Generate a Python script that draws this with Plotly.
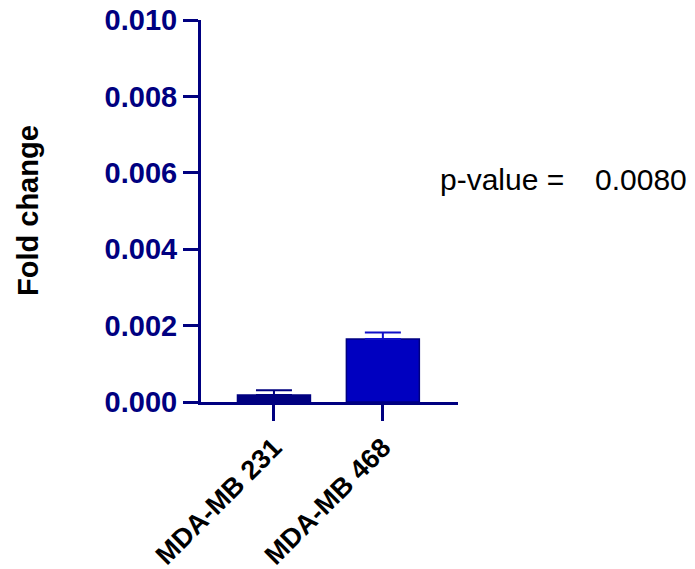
import plotly.graph_objects as go

categories = ["MDA-MB 231", "MDA-MB 468"]
values = [0.00018, 0.00165]
errors = [0.00013, 0.00017]
bar_colors = ["#000080", "#0000C0"]
err_colors = ["#000080", "#1010C8"]
y_ticks = [0.000, 0.002, 0.004, 0.006, 0.008, 0.010]
y_tick_labels = ["0.000", "0.002", "0.004", "0.006", "0.008", "0.010"]
y_title = "Fold change"
p_label = "p-value ="
p_value = "0.0080"

navy = "#000080"
FONT = "Arial, Liberation Sans, sans-serif"

L, R, T, B = 201, 458, 20, 402
W, H = 695, 569

fig = go.Figure()
for i in range(len(categories)):
    fig.add_trace(go.Bar(
        x=[i], y=[values[i]], width=0.67,
        marker=dict(color=bar_colors[i], line=dict(color=navy, width=1.5)),
        error_y=dict(type="data", array=[errors[i]], arrayminus=[0], symmetric=False,
                     color=err_colors[i], thickness=2, width=18),
        showlegend=False, hoverinfo="skip",
    ))

fig.update_layout(
    width=W, height=H,
    margin=dict(l=L, r=W - R, t=T, b=H - B, autoexpand=False),
    paper_bgcolor="white", plot_bgcolor="white",
    font=dict(family=FONT, color="black"),
    barmode="overlay",
    xaxis=dict(
        range=[-0.67, 1.69], tickvals=[0, 1],
        ticktext=["<b>%s</b>" % c for c in categories],
        tickangle=-45, showline=True, linecolor=navy, linewidth=3,
        ticks="outside", ticklen=16, tickwidth=3, tickcolor=navy,
        tickfont=dict(size=27, color="black", family=FONT),
        showgrid=False, zeroline=False, automargin=False,
    ),
    yaxis=dict(
        range=[0, 0.010], tickvals=y_ticks,
        ticktext=["<b>%s</b>" % t for t in y_tick_labels],
        showline=True, linecolor=navy, linewidth=3,
        ticks="outside", ticklen=15, tickwidth=3, tickcolor=navy,
        tickfont=dict(size=29, color=navy, family=FONT),
        showgrid=False, zeroline=False, automargin=False,
    ),
)

def px_x(px):
    return (px - L) / (R - L)

def px_y(py):
    return (B - py) / (B - T)

fig.add_annotation(x=px_x(28), y=px_y(211), xref="paper", yref="paper",
                   text="<b>%s</b>" % y_title, textangle=-90, showarrow=False,
                   xanchor="center", yanchor="middle",
                   font=dict(size=29, color="black", family=FONT))
fig.add_annotation(x=px_x(502), y=px_y(179), xref="paper", yref="paper", text=p_label,
                   showarrow=False, xanchor="center", yanchor="middle",
                   font=dict(size=30, color="black", family=FONT))
fig.add_annotation(x=px_x(641), y=px_y(179), xref="paper", yref="paper", text=p_value,
                   showarrow=False, xanchor="center", yanchor="middle",
                   font=dict(size=30, color="black", family=FONT))

fig.write_html("out.html", config={"displayModeBar": False},
               post_script="document.body.style.margin='0';document.body.style.overflow='hidden';")
